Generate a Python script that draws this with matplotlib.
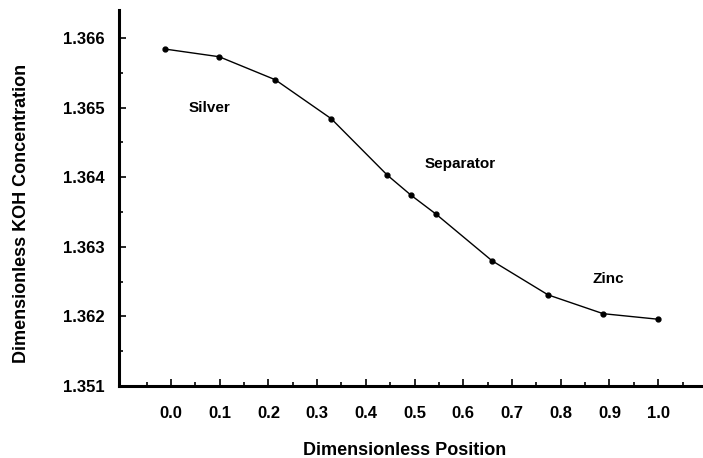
import numpy as np
import matplotlib.pyplot as plt
from matplotlib.ticker import MultipleLocator, FixedLocator

# values
pos = [-0.012, 0.099, 0.214, 0.329, 0.444, 0.493, 0.544, 0.659, 0.774, 0.887, 1.0]
conc = [1.36584, 1.36573, 1.36540, 1.36484, 1.36403, 1.36374,
        1.36347, 1.36280, 1.36231, 1.36204, 1.36196]
xticks = [0.0, 0.1, 0.2, 0.3, 0.4, 0.5, 0.6, 0.7, 0.8, 0.9, 1.0]
yticks = [1.361, 1.362, 1.363, 1.364, 1.365, 1.366]
ylabels = ['1.351', '1.362', '1.363', '1.364', '1.365', '1.366']
regions = ['Silver', 'Separator', 'Zinc']
region_x = [0.08, 0.593, 0.897]
region_y = [1.36499, 1.36419, 1.36254]

plt.rcParams['font.family'] = ['Liberation Sans', 'DejaVu Sans']
plt.rcParams['font.weight'] = 'bold'

fig = plt.figure(figsize=(7.03, 4.58), dpi=100)
ax = fig.add_axes([0.169, 0.157, 0.831, 0.821])

ax.plot(pos, conc, color='black', lw=1.0, marker='o', ms=3.5,
        mfc='black', mec='black')

for t, x, y in zip(regions, region_x, region_y):
    ax.text(x, y, t, ha='center', va='center', fontsize=11, fontweight='bold')

ax.set_xlim(-0.107, 1.092)
ax.set_ylim(1.36103, 1.3664)
ax.set_xticks(xticks)
ax.set_xticklabels(['%.1f' % v for v in xticks])
ax.set_yticks(yticks)
ax.set_yticklabels(ylabels)
ax.xaxis.set_minor_locator(FixedLocator(np.arange(-0.05, 1.1, 0.1)))
ax.yaxis.set_minor_locator(MultipleLocator(0.0005))

ax.tick_params(which='both', direction='in', width=1.2)
ax.tick_params(which='major', length=5, labelsize=12)
ax.tick_params(which='minor', length=3)
ax.tick_params(axis='x', pad=14)
ax.tick_params(axis='y', pad=10)
for lbl in ax.get_xticklabels() + ax.get_yticklabels():
    lbl.set_fontweight('bold')

for s in ['top', 'right']:
    ax.spines[s].set_visible(False)
for s in ['left', 'bottom']:
    ax.spines[s].set_linewidth(2.2)

ax.set_xlabel('Dimensionless Position', fontsize=13, fontweight='bold', va='center')
ax.set_ylabel('Dimensionless KOH Concentration', fontsize=13, fontweight='bold', va='center')
ax.xaxis.set_label_coords(0.49, -0.17)
ax.yaxis.set_label_coords(-0.166, 0.46)

fig.savefig('out.png', dpi=100)
